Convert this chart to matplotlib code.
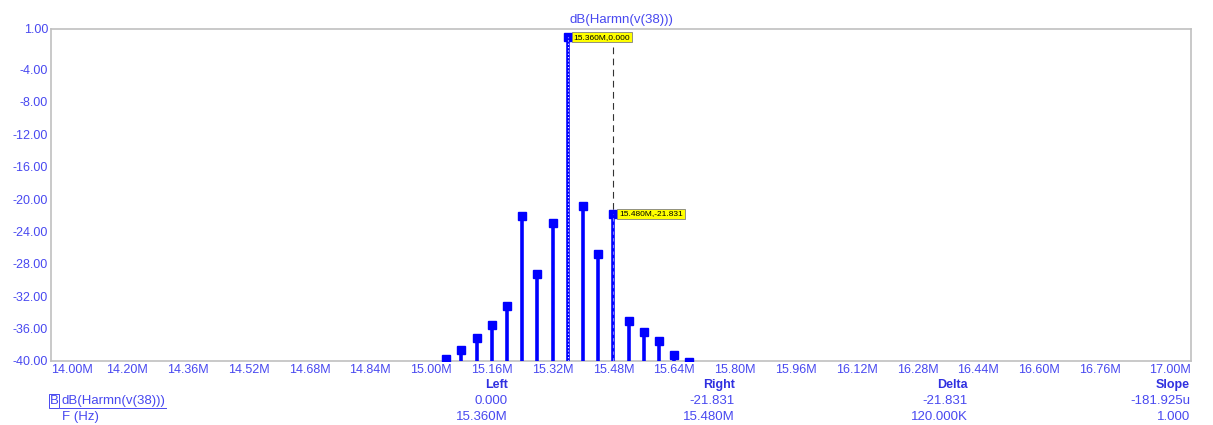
import matplotlib.pyplot as plt
from matplotlib.patches import Rectangle

plt.rcParams['font.family'] = ['Liberation Sans', 'DejaVu Sans']

# Harmonic frequencies (MHz) and levels (dB)
freq_mhz = [15.04, 15.08, 15.12, 15.16, 15.20, 15.24, 15.28, 15.32, 15.36,
            15.40, 15.44, 15.48, 15.52, 15.56, 15.60, 15.64, 15.68]
level_db = [-39.7, -38.6, -37.2, -35.6, -33.2, -22.1, -29.2, -22.9, 0.0,
            -20.9, -26.8, -21.831, -35.0, -36.4, -37.5, -39.2, -40.1]

# Axis ticks
y_ticks = [1, -4, -8, -12, -16, -20, -24, -28, -32, -36, -40]
x_ticks = [14.00, 14.20, 14.36, 14.52, 14.68, 14.84, 15.00, 15.16, 15.32, 15.48,
           15.64, 15.80, 15.96, 16.12, 16.28, 16.44, 16.60, 16.76, 17.00]

# Cursors
cursor_left = (15.36, 0.000)
cursor_right = (15.48, -21.831)

# Cursor readout table
table_cols = ['Left', 'Right', 'Delta', 'Slope']
table_row1 = ['0.000', '-21.831', '-21.831', '-181.925u']
table_row2 = ['15.360M', '15.480M', '120.000K', '1.000']

blue = '#0000ff'
txt = '#4848f0'

fig = plt.figure(figsize=(12.13, 4.25), dpi=100)
ax = fig.add_axes([0.042, 0.1506, 0.940, 0.7812])

ax.vlines(freq_mhz, -40, level_db, color=blue, linewidth=2.6, zorder=3)
ax.plot(freq_mhz, level_db, 's', color=blue, markersize=5.5, zorder=4)

# cursor lines
ax.plot([cursor_left[0]] * 2, [-40, cursor_left[1]], color='white',
        linestyle=(0, (1, 2)), linewidth=0.8, zorder=5)
ax.plot([cursor_right[0]] * 2, [-40, cursor_right[1]], color='#8080ff',
        linestyle=(0, (3, 3)), linewidth=0.8, zorder=5)
ax.plot([cursor_right[0]] * 2, [-1.2, cursor_right[1]], color='#333333',
        linestyle=(0, (6, 4)), linewidth=0.8, zorder=2)

for cx, cy in [cursor_left, cursor_right]:
    ax.annotate('%.3fM,%.3f' % (cx, cy), xy=(cx, cy), xytext=(cx + 0.015, cy),
                fontsize=6, color='black', va='center', ha='left',
                bbox=dict(boxstyle='square,pad=0.2', fc='#ffff00', ec='#808080', lw=0.6),
                zorder=6, annotation_clip=False)

ax.set_xlim(14.0, 17.0)
ax.set_ylim(-40, 1)
ax.set_yticks(y_ticks)
ax.set_yticklabels(['%.2f' % v for v in y_ticks])
ax.set_xticks(x_ticks)
ax.set_xticklabels(['%.2fM' % v for v in x_ticks])
xl = ax.get_xticklabels()
xl[0].set_horizontalalignment('left')
xl[-1].set_horizontalalignment('right')
ax.tick_params(length=0, labelsize=9, labelcolor=txt, pad=2)
for s in ax.spines.values():
    s.set_color('#c0c0c0')
    s.set_linewidth(1.2)

ax.set_title('dB(Harmn(v(38)))', fontsize=9.5, color=txt, pad=4)

# readout table below the chart
col_x = [508, 735, 968, 1190]
for x, head, v1, v2 in zip(col_x, table_cols, table_row1, table_row2):
    fig.text(x / 1213, 1 - 385 / 425, head, ha='right', va='center',
             fontsize=9, color='#3030e0', fontweight='bold')
    fig.text(x / 1213, 1 - 401 / 425, v1, ha='right', va='center',
             fontsize=9.5, color=txt)
    fig.text(x / 1213, 1 - 417 / 425, v2, ha='right', va='center',
             fontsize=9.5, color=txt)

fig.text(61 / 1213, 1 - 401 / 425, 'dB(Harmn(v(38)))', ha='left', va='center',
         fontsize=9.5, color=txt)
fig.text(54 / 1213, 1 - 401 / 425, 'B', ha='center', va='center',
         fontsize=9.5, color=txt)
fig.add_artist(Rectangle((49 / 1213, 1 - 408 / 425), 10 / 1213, 14 / 425,
                         transform=fig.transFigure, fill=False, ec=txt, lw=0.7))
fig.add_artist(plt.Line2D([60 / 1213, 166 / 1213], [1 - 408 / 425] * 2,
                          transform=fig.transFigure, color=txt, lw=0.7))
fig.text(62 / 1213, 1 - 417 / 425, 'F (Hz)', ha='left', va='center',
         fontsize=9.5, color=txt)

fig.savefig('out.png', dpi=100)
